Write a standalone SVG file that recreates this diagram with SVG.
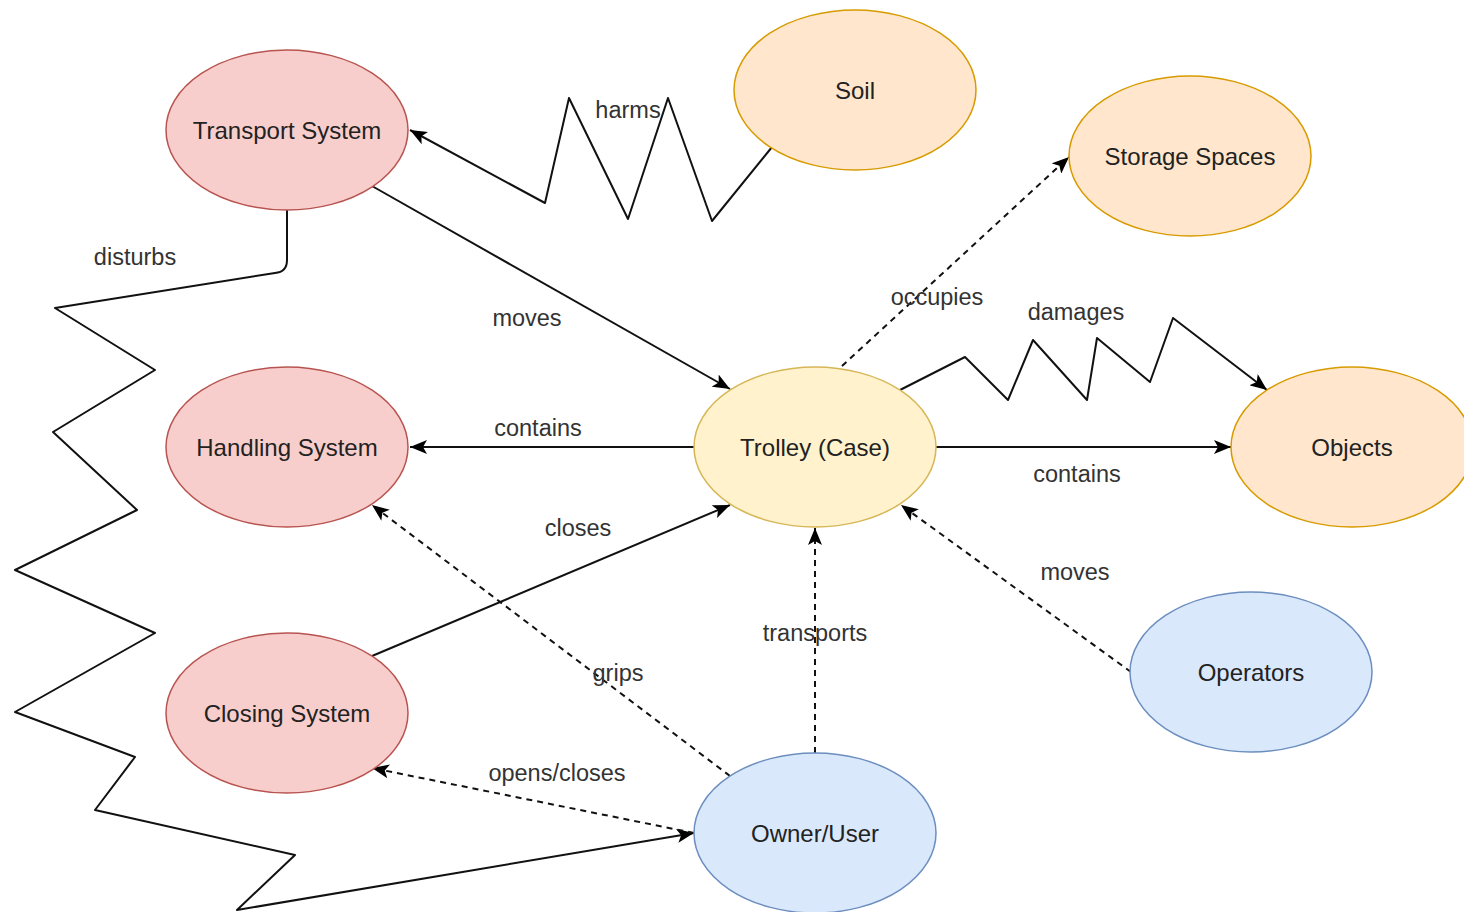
<svg xmlns="http://www.w3.org/2000/svg" width="1464" height="912" viewBox="0 0 1464 912">
<defs>
<marker id="arr" markerUnits="userSpaceOnUse" markerWidth="18" markerHeight="14" viewBox="0 0 18 14" refX="17" refY="7" orient="auto">
<path d="M0,0 L17,7 L0,14 L4,7 Z" fill="#000"/>
</marker>
<style>
.red{fill:#f8cecc;stroke:#b85450;stroke-width:1.5}
.org{fill:#ffe6cc;stroke:#d79b00;stroke-width:1.5}
.yel{fill:#fff2cc;stroke:#d6b656;stroke-width:1.5}
.blu{fill:#dae8fc;stroke:#6c8ebf;stroke-width:1.5}
.nt{font-family:"Liberation Sans",Arial,sans-serif;font-size:24px;fill:#222;text-anchor:middle;dominant-baseline:central}
.lb{font-family:"Liberation Sans",Arial,sans-serif;font-size:23.5px;fill:#333;text-anchor:middle;dominant-baseline:central}
.e{fill:none;stroke:#111;stroke-width:2;stroke-linejoin:round;marker-end:url(#arr)}
.d{stroke-dasharray:6 5}
</style>
</defs>
<g id="connectors">
<polyline class="e" points="772,147 712,221 668,98 628,219 569,98 545,203 410,130"/>
<line class="e" x1="372" y1="186" x2="730" y2="389"/>
<path class="e" d="M287,210 L287,260 Q287,272 275,273 L55,308 L155,370 L53,432 L137,510 L15,570 L155,633 L15,712 L135,757 L95,810 L295,855 L237,910 L694,833"/>
<line class="e" x1="694" y1="447" x2="410" y2="447"/>
<line class="e" x1="936" y1="447" x2="1231" y2="447"/>
<line class="e" x1="372" y1="656" x2="730" y2="505"/>
<line class="e d" x1="730" y1="776" x2="372" y2="505"/>
<line class="e d" x1="694" y1="833" x2="372" y2="768"/>
<line class="e d" x1="815" y1="753" x2="815" y2="528"/>
<line class="e d" x1="1131" y1="672" x2="901" y2="505"/>
<line class="e d" x1="842" y1="366" x2="1069" y2="157"/>
<polyline class="e" points="900,390 965,357 1008,400 1033,340 1087,400 1097,338 1150,382 1173,318 1267,390"/>
<text class="lb" x="628" y="110">harms</text>
<text class="lb" x="527" y="318">moves</text>
<text class="lb" x="135" y="257">disturbs</text>
<text class="lb" x="538" y="428">contains</text>
<text class="lb" x="1077" y="474">contains</text>
<text class="lb" x="578" y="528">closes</text>
<text class="lb" x="618" y="673">grips</text>
<text class="lb" x="557" y="773">opens/closes</text>
<text class="lb" x="815" y="633">transports</text>
<text class="lb" x="1075" y="572">moves</text>
<text class="lb" x="937" y="297">occupies</text>
<text class="lb" x="1076" y="312">damages</text>
</g>
<g id="transport"><ellipse class="red" cx="287" cy="130" rx="121" ry="80"/><text class="nt" x="287" y="130">Transport System</text></g>
<g id="handling"><ellipse class="red" cx="287" cy="447" rx="121" ry="80"/><text class="nt" x="287" y="447">Handling System</text></g>
<g id="closing"><ellipse class="red" cx="287" cy="713" rx="121" ry="80"/><text class="nt" x="287" y="713">Closing System</text></g>
<g id="soil"><ellipse class="org" cx="855" cy="90" rx="121" ry="80"/><text class="nt" x="855" y="90">Soil</text></g>
<g id="storage"><ellipse class="org" cx="1190" cy="156" rx="121" ry="80"/><text class="nt" x="1190" y="156">Storage Spaces</text></g>
<g id="trolley"><ellipse class="yel" cx="815" cy="447" rx="121" ry="80"/><text class="nt" x="815" y="447">Trolley (Case)</text></g>
<g id="objects"><ellipse class="org" cx="1352" cy="447" rx="121" ry="80"/><text class="nt" x="1352" y="447">Objects</text></g>
<g id="operators"><ellipse class="blu" cx="1251" cy="672" rx="121" ry="80"/><text class="nt" x="1251" y="672">Operators</text></g>
<g id="owner"><ellipse class="blu" cx="815" cy="833" rx="121" ry="80"/><text class="nt" x="815" y="833">Owner/User</text></g>
</svg>
